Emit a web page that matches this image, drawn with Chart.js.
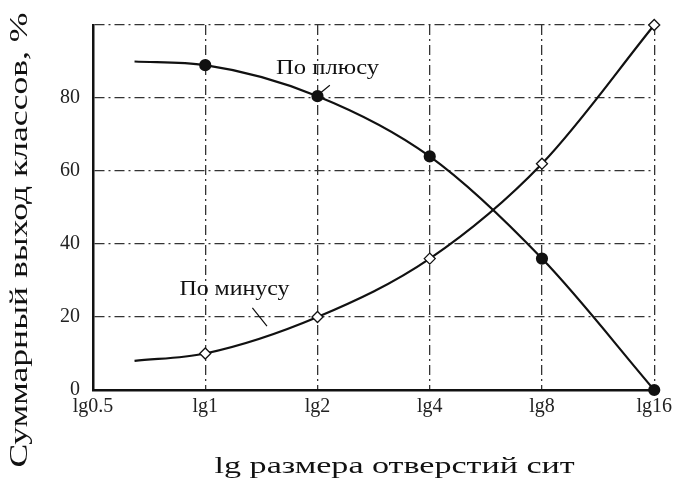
<!DOCTYPE html>
<html><head><meta charset="utf-8">
<script src="https://cdn.jsdelivr.net/npm/chart.js@4"></script>
<style>html,body{margin:0;padding:0;background:#fff}#w{width:677px;height:493px}</style>
</head><body><div id="w"><canvas id="c"></canvas></div>
<script>
// x in units of log2(size): lg0.5=-1, lg1=0, lg2=1, lg4=2, lg8=3, lg16=4
const xValues = [-0.63, 0, 1, 2, 3, 4];
const plusValues = [90, 89, 80.5, 64, 36, 0];
const minusValues = [8, 10, 20, 36, 62, 100];
const tickValues = [-1, 0, 1, 2, 3, 4];
const tickLabels = ['lg0.5', 'lg1', 'lg2', 'lg4', 'lg8', 'lg16'];
const yTickValues = [0, 20, 40, 60, 80];
const seriesNames = ['По плюсу', 'По минусу'];
const xTitle = 'lg размера отверстий сит';
const yTitle = 'Суммарный выход классов, %';

const font = '"Liberation Serif", "DejaVu Serif", serif';

function wideText(ctx, text, cx, cy, targetWidth) {
  const w0 = ctx.measureText(text).width;
  const sx = Math.max(1, targetWidth / w0);
  ctx.save();
  ctx.translate(cx, cy);
  ctx.scale(sx, 1);
  ctx.textAlign = 'center';
  ctx.fillText(text, 0, 0);
  ctx.restore();
}

const labelsPlugin = {
  id: 'labels',
  afterDatasetsDraw(chart) {
    const {ctx, scales: {x, y}, chartArea} = chart;
    ctx.save();
    ctx.fillStyle = '#111';
    ctx.strokeStyle = '#111';
    ctx.lineWidth = 1.2;
    ctx.textBaseline = 'middle';
    ctx.font = '21px ' + font;
    wideText(ctx, seriesNames[0], x.getPixelForValue(1.09), y.getPixelForValue(88), 103);
    wideText(ctx, seriesNames[1], x.getPixelForValue(0.26), y.getPixelForValue(27.5), 110);
    ctx.beginPath();
    ctx.moveTo(x.getPixelForValue(1.11), y.getPixelForValue(83.5));
    ctx.lineTo(x.getPixelForValue(0.99), y.getPixelForValue(80.5));
    ctx.moveTo(x.getPixelForValue(0.42), y.getPixelForValue(22.5));
    ctx.lineTo(x.getPixelForValue(0.55), y.getPixelForValue(17.5));
    ctx.stroke();
    // axis titles
    ctx.font = '24px ' + font;
    wideText(ctx, xTitle, (chartArea.left + chartArea.right) / 2 + 21, 467, 360);
    ctx.save();
    ctx.translate(20, 240);
    ctx.rotate(-Math.PI / 2);
    ctx.font = '26px ' + font;
    wideText(ctx, yTitle, 0, 0, 455);
    ctx.restore();
    ctx.restore();
  }
};

new Chart(document.getElementById('c'), {
  type: 'line',
  data: {
    datasets: [
      {
        label: seriesNames[0],
        data: xValues.map((v, i) => ({x: v, y: plusValues[i]})),
        borderColor: '#111', borderWidth: 2.2,
        pointStyle: 'circle', pointRadius: xValues.map((v, i) => i === 0 ? 0 : 5),
        pointBackgroundColor: '#111', pointBorderColor: '#111',
        cubicInterpolationMode: 'monotone', fill: false, clip: false
      },
      {
        label: seriesNames[1],
        data: xValues.map((v, i) => ({x: v, y: minusValues[i]})),
        borderColor: '#111', borderWidth: 2.2,
        pointStyle: 'rectRot', pointRadius: xValues.map((v, i) => i === 0 ? 0 : 5.5),
        pointBackgroundColor: '#fff', pointBorderColor: '#111', pointBorderWidth: 1.3,
        cubicInterpolationMode: 'monotone', fill: false, clip: false
      }
    ]
  },
  options: {
    responsive: true, maintainAspectRatio: false, animation: false,
    layout: {padding: {left: 0, right: 22, top: 20, bottom: 0}},
    plugins: {legend: {display: false}, tooltip: {enabled: false}},
    scales: {
      x: {
        type: 'linear', min: -1, max: 4,
        afterBuildTicks(s) { s.ticks = tickValues.map(v => ({value: v})); },
        afterFit(s) { s.height = 103; },
        ticks: {
          callback: (v) => tickLabels[tickValues.indexOf(v)],
          color: '#222', font: {family: font, size: 20}, padding: 5, maxRotation: 0, autoSkip: false
        },
        grid: {color: '#333', lineWidth: 1.3, drawTicks: false},
        border: {display: true, color: '#111', width: 2.5, dash: [10, 4, 2, 4]},
        title: {display: false}
      },
      y: {
        min: 0, max: 100,
        afterBuildTicks(s) { s.ticks = yTickValues.concat([100]).map(v => ({value: v})); },
        afterFit(s) { s.width = 93; },
        ticks: {
          callback: (v) => yTickValues.includes(v) ? String(v) : '',
          color: '#222', font: {family: font, size: 20}, padding: 13
        },
        grid: {color: '#333', lineWidth: 1.3, drawTicks: false},
        border: {display: true, color: '#111', width: 2.5, dash: [10, 4, 2, 4]},
        title: {display: false}
      }
    }
  },
  plugins: [labelsPlugin]
});
</script>
</body></html>
